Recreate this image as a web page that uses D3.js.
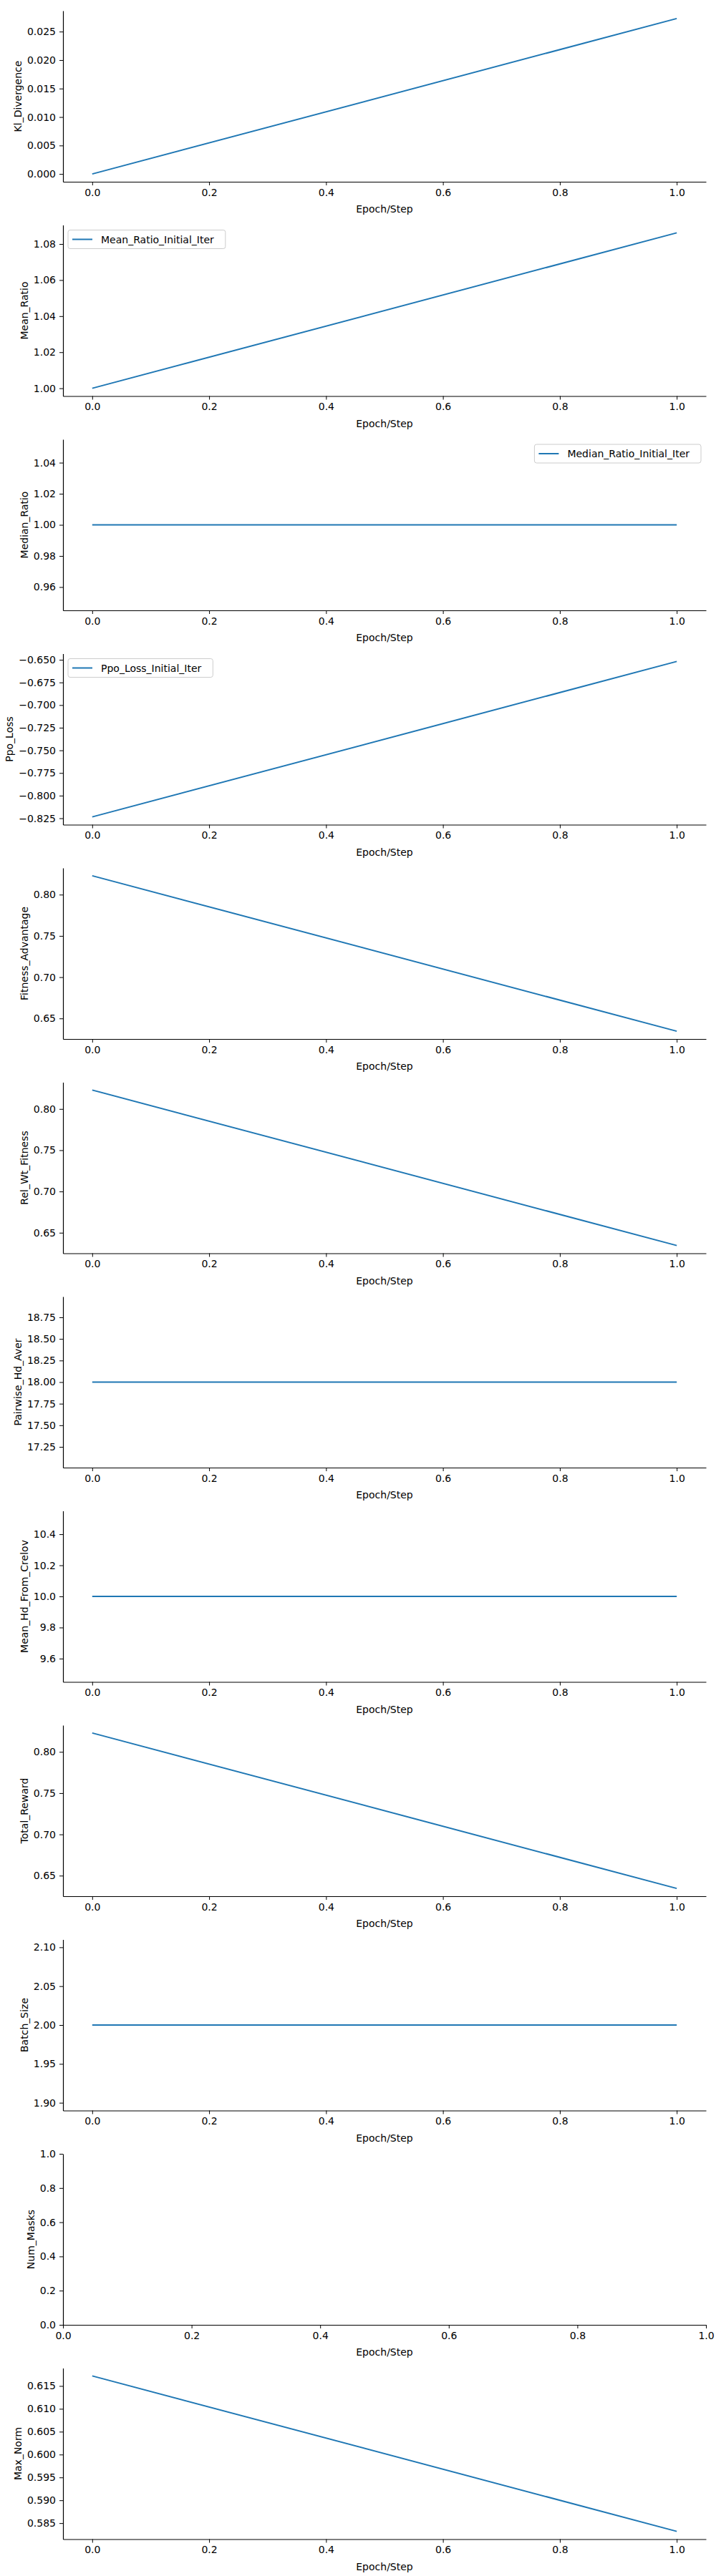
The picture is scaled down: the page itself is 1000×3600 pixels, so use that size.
<!DOCTYPE html>
<html><head><meta charset="utf-8">
<script src="https://cdn.jsdelivr.net/npm/d3@7"></script>
<style>body{margin:0;background:#fff}text{font-family:"DejaVu Sans",sans-serif}</style>
</head><body><svg id="c" width="1000" height="3600"></svg>
<script>
const steps = [0, 1];
const metricNames = ["Kl_Divergence","Mean_Ratio","Median_Ratio","Ppo_Loss","Fitness_Advantage","Rel_Wt_Fitness","Pairwise_Hd_Aver","Mean_Hd_From_Crelov","Total_Reward","Batch_Size","Num_Masks","Max_Norm"];
const klDivergence = [0.0, 0.0273];
const meanRatio = [1.0, 1.0862];
const medianRatio = [1.0, 1.0];
const ppoLoss = [-0.8235, -0.6518];
const fitnessAdvantage = [0.8229, 0.6345];
const relWtFitness = [0.8229, 0.6345];
const pairwiseHdAver = [18.0, 18.0];
const meanHdFromCrelov = [10.0, 10.0];
const totalReward = [0.8229, 0.6345];
const batchSize = [2.0, 2.0];
const numMasks = [];
const maxNorm = [0.6172, 0.5832];
const seriesValues = [klDivergence, meanRatio, medianRatio, ppoLoss, fitnessAdvantage, relWtFitness, pairwiseHdAver, meanHdFromCrelov, totalReward, batchSize, numMasks, maxNorm];
const legendLabels = [null, "Mean_Ratio_Initial_Iter", "Median_Ratio_Initial_Iter", "Ppo_Loss_Initial_Iter", null,null,null,null,null,null,null,null];
const legendPos = [null,"left","right","left",null,null,null,null,null,null,null,null];
const yTicks = [
  [0,0.005,0.01,0.015,0.02,0.025],
  [1.0,1.02,1.04,1.06,1.08],
  [0.96,0.98,1.0,1.02,1.04],
  [-0.825,-0.8,-0.775,-0.75,-0.725,-0.7,-0.675,-0.65],
  [0.65,0.7,0.75,0.8],
  [0.65,0.7,0.75,0.8],
  [17.25,17.5,17.75,18.0,18.25,18.5,18.75],
  [9.6,9.8,10.0,10.2,10.4],
  [0.65,0.7,0.75,0.8],
  [1.9,1.95,2.0,2.05,2.1],
  [0,0.2,0.4,0.6,0.8,1.0],
  [0.585,0.59,0.595,0.6,0.605,0.61,0.615]
];
const yFormats = [".3f",".2f",".2f",".3f",".2f",".2f",".2f",".1f",".2f",".2f",".1f",".3f"];
const xTicks = [0,0.2,0.4,0.6,0.8,1.0];

const svg = d3.select("#c");
const L=88, R=986, H=239, color="#1f77b4";
metricNames.forEach((name,i)=>{
  const top = 15 + 299.5*i, bot = top+H;
  const vals = seriesValues[i];
  let xd, yd;
  if (vals.length===0){ xd=[0,1]; yd=[0,1]; }
  else {
    let lo=d3.min(vals), hi=d3.max(vals);
    if (lo===hi){ lo-=Math.abs(lo)*0.05; hi+=Math.abs(hi)*0.05; }
    const m=(hi-lo)*0.05; yd=[lo-m,hi+m];
    xd=[-0.05,1.05];
  }
  const x=d3.scaleLinear().domain(xd).range([L,R]);
  const y=d3.scaleLinear().domain(yd).range([bot,top]);
  const g=svg.append("g");
  const xa=g.append("g").attr("transform",`translate(0,${bot})`)
    .call(d3.axisBottom(x).tickValues(xTicks).tickFormat(d3.format(".1f")).tickSize(5).tickSizeOuter(0).tickPadding(5));
  const ya=g.append("g").attr("transform",`translate(${L},0)`)
    .call(d3.axisLeft(y).tickValues(yTicks[i]).tickFormat(d=>d3.format(yFormats[i])(d).replace("-","\u2212")).tickSize(5).tickSizeOuter(0).tickPadding(5));
  [xa,ya].forEach(a=>{a.selectAll("text").attr("font-size",14).attr("fill","#000").style("font-family","DejaVu Sans");
    a.select(".domain").attr("stroke","#000").attr("stroke-width",1.2);a.selectAll(".tick line").attr("stroke","#000");});
  g.append("text").attr("x",(L+R)/2).attr("y",bot+43).attr("text-anchor","middle").attr("font-size",14).text("Epoch/Step");
  const yl=ya.node().getBBox();
  g.append("text").attr("transform",`translate(${L+yl.x-8},${(top+bot)/2}) rotate(-90)`).attr("text-anchor","middle").attr("font-size",14).text(name);
  if (vals.length){
    g.append("path").datum(steps.map((s,k)=>[s,vals[k]])).attr("fill","none").attr("stroke",color).attr("stroke-width",2)
      .attr("d",d3.line().x(d=>x(d[0])).y(d=>y(d[1])));
  }
  if (legendLabels[i]){
    const t=legendLabels[i];
    const lg=g.append("g");
    const tx=lg.append("text").attr("font-size",14).text(t);
    const w=tx.node().getComputedTextLength()+62, hh=26;
    const lx = legendPos[i]==="left" ? L+7 : R-7-w, ly=top+7;
    lg.insert("rect","text").attr("x",lx).attr("y",ly).attr("width",w).attr("height",hh).attr("rx",3)
      .attr("fill","#fff").attr("fill-opacity",0.8).attr("stroke","#ccc");
    lg.append("line").attr("x1",lx+6).attr("x2",lx+34).attr("y1",ly+hh/2).attr("y2",ly+hh/2).attr("stroke",color).attr("stroke-width",2);
    tx.attr("x",lx+46).attr("y",ly+hh/2+5);
  }
});
</script></body></html>
